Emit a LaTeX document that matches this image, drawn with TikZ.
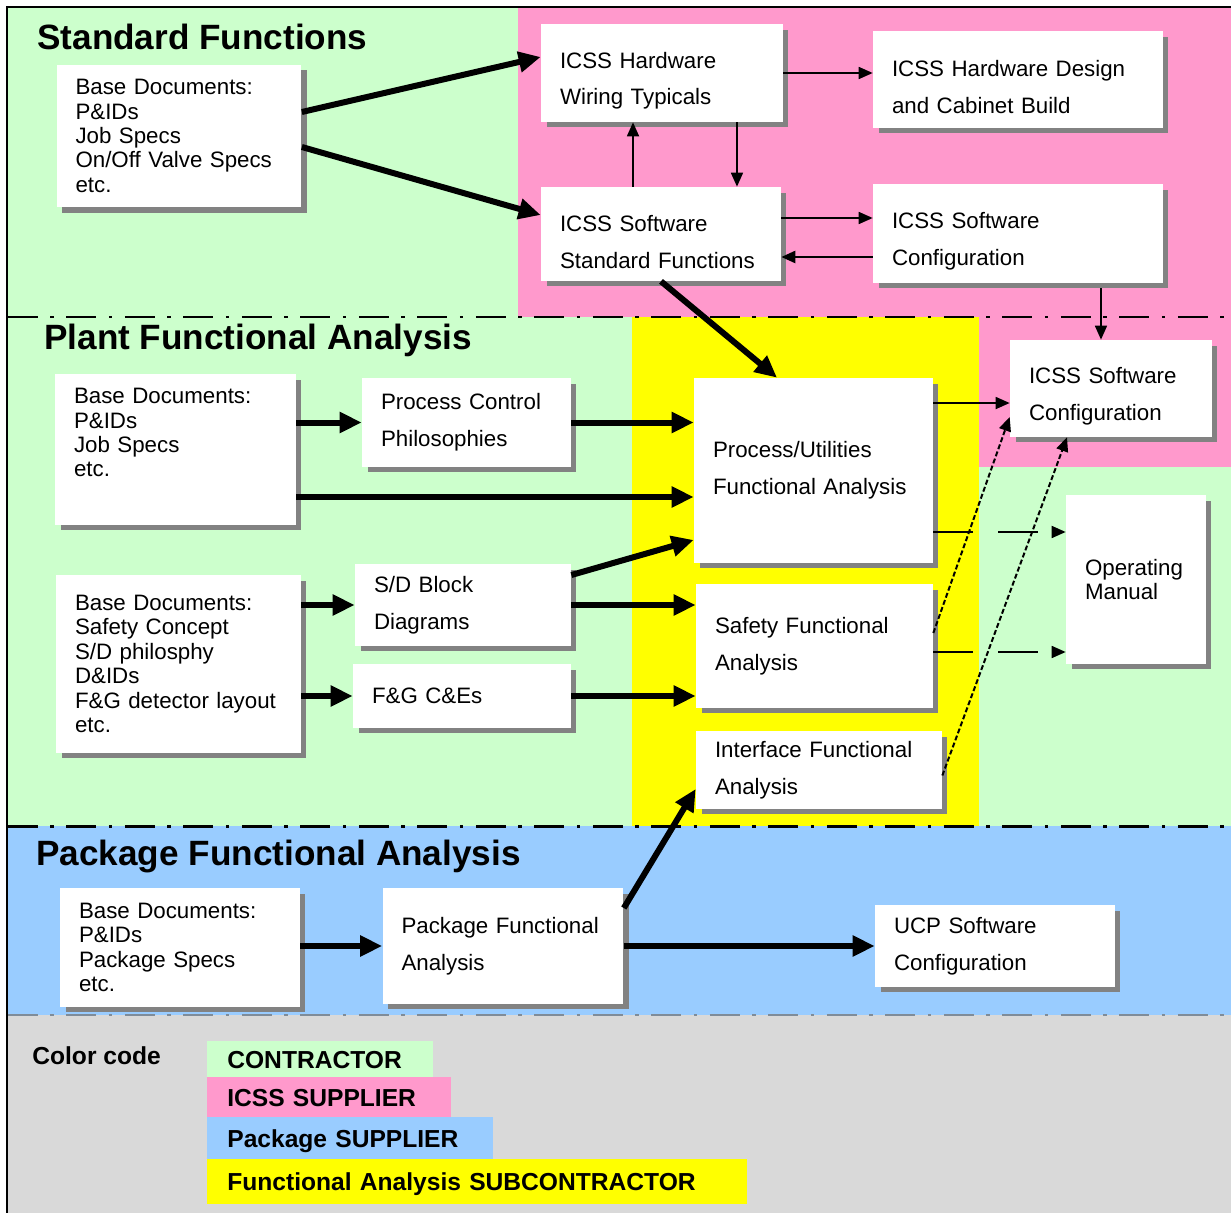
\documentclass[tikz,border=0pt]{standalone}
\usepackage{fontspec}
\setmainfont{Liberation Sans}
\usetikzlibrary{arrows.meta,shadows}

\definecolor{contractor}{HTML}{CCFFCC}
\definecolor{supplier}{HTML}{FF99CC}
\definecolor{pkgsupplier}{HTML}{99CCFF}
\definecolor{subcon}{HTML}{FFFF00}
\definecolor{codegray}{HTML}{D9D9D9}
\definecolor{shade}{HTML}{828282}
\definecolor{divgray}{HTML}{7F8C99}

\begin{document}
\begin{tikzpicture}[
        x=0.02cm, y=-0.02cm,
        box/.style={fill=white, inner xsep=0.38cm, inner ysep=2pt, align=left,
                font=\fontsize{12.7}{21}\selectfont,
                drop shadow={shadow xshift=0.11cm, shadow yshift=-0.11cm, fill=shade, opacity=1}},
        docs/.style={box, font=\fontsize{12.7}{13.9}\selectfont},
        lowered/.style={text height=18pt},
        heading/.style={anchor=base west, inner sep=0pt, font=\fontsize{20}{24}\selectfont\bfseries},
        codebox/.style={anchor=north west, inner xsep=0.4cm, inner ysep=0pt, align=left,
                text height=10pt, text depth=0pt, font=\fontsize{14}{16}\selectfont\bfseries},
        fat/.style={line width=0.12cm, -{Triangle[length=0.44cm,width=0.4cm]}},
        slim/.style={line width=0.035cm, -{Triangle[length=0.28cm,width=0.24cm]}},
        gapped/.style={slim, dash pattern=on 0.8cm off 0.5cm},
        fine/.style={slim, line width=0.04cm, dash pattern=on 0.1cm off 0.05cm},
        divider/.style={line width=0.06cm, dash pattern=on 0.6cm off 0.25cm on 0.07cm off 0.25cm}
    ]
    \useasboundingbox (0,0) rectangle (1231,1213);

    % Colour fields
    \fill[white] (0,0) rectangle (1231,1213);
    \fill[contractor] (8,8) rectangle (518,317);
    \fill[supplier] (518,8) rectangle (1231,317);
    \fill[contractor] (8,317) rectangle (1231,826);
    \fill[subcon] (632,317) rectangle (979,826);
    \fill[supplier] (979,317) rectangle (1231,467);
    \fill[pkgsupplier] (8,826) rectangle (1231,1015);
    \fill[codegray] (8,1015) rectangle (1231,1213);

    % Frame and dividers
    \draw[line width=0.05cm] (7,1213) -- (7,7) -- (1231,7);
    \draw[divider] (8,317) -- (1231,317);
    \draw[divider] (8,826) -- (1231,826);
    \draw[divider, divgray, line width=0.04cm] (8,1015) -- (1231,1015);

    % Headings
    \node[heading] (hstd) at (37,50) {Standard Functions};
    \node[heading] (hplant) at (44,350) {Plant Functional Analysis};
    \node[heading] (hpkg) at (36,865) {Package Functional Analysis};

    % Standard functions
    \node[docs, text width=4.14cm, minimum height=2.86cm] (sfbase) at (179,136)
        {Base Documents:\\P\&IDs\\Job Specs\\On/Off Valve Specs\\etc.};
    \node[box, lowered, text width=4.08cm, minimum height=1.96cm] (hwtyp) at (662,73)
        {ICSS Hardware\\Wiring Typicals};
    \node[box, lowered, text width=5.04cm, minimum height=1.94cm] (hwdes) at (1018,79.5)
        {ICSS Hardware Design\\and Cabinet Build};
    \node[box, lowered, text width=4.04cm, minimum height=1.88cm] (swstd) at (661,234)
        {ICSS Software\\Standard Functions};
    \node[box, lowered, text width=5.04cm, minimum height=1.98cm] (swcfg) at (1018,233.5)
        {ICSS Software\\Configuration};

    % Plant functional analysis
    \node[docs, text width=4.06cm, minimum height=3.02cm, text depth=61pt] (pfbase) at (175.5,449.5)
        {Base Documents:\\P\&IDs\\Job Specs\\etc.};
    \node[box, text width=3.42cm, minimum height=1.78cm] (pcp) at (466.5,422.5)
        {Process Control\\Philosophies};
    \node[box, text width=4.02cm, minimum height=3.7cm] (pua) at (813.5,470.5)
        {Process/Utilities\\Functional Analysis};
    \node[box, lowered, text width=3.28cm, minimum height=1.94cm] (swcfgb) at (1111,388.5)
        {ICSS Software\\Configuration};
    \node[docs, text width=2.04cm, minimum height=3.38cm] (opman) at (1136,579.5)
        {Operating\\Manual};
    \node[docs, text width=4.14cm, minimum height=3.56cm] (sdbase) at (178.5,664)
        {Base Documents:\\Safety Concept\\S/D philosphy\\D\&IDs\\F\&G detector layout\\etc.};
    \node[box, text width=3.56cm, minimum height=1.64cm] (sdblk) at (463,605)
        {S/D Block\\Diagrams};
    \node[box, text width=3.6cm, minimum height=1.28cm] (fgce) at (462,696)
        {F\&G C\&Es};
    \node[box, text width=3.98cm, minimum height=2.48cm] (safa) at (814.5,646)
        {Safety Functional\\Analysis};
    \node[box, text width=4.16cm, minimum height=1.56cm] (iffa) at (819,770)
        {Interface Functional\\Analysis};

    % Package functional analysis
    \node[docs, text width=4.04cm, minimum height=2.38cm] (pkbase) at (180,947.5)
        {Base Documents:\\P\&IDs\\Package Specs\\etc.};
    \node[box, text width=4.06cm, minimum height=2.32cm] (pkfa) at (503,946)
        {Package Functional\\Analysis};
    \node[box, text width=4.04cm, minimum height=1.64cm] (ucp) at (995,946)
        {UCP Software\\Configuration};

    % Standard functions links
    \draw[fat] ([yshift=0.48cm]sfbase.east) -- ([yshift=0.32cm]hwtyp.west);
    \draw[fat] ([yshift=-0.22cm]sfbase.east) -- ([yshift=0.38cm]swstd.west);
    \draw[slim] (hwtyp.east) -- (hwtyp.east -| hwdes.west);
    \draw[slim] ([xshift=-0.56cm]swstd.north) -- ([xshift=-0.56cm]swstd.north |- hwtyp.south);
    \draw[slim] ([xshift=1.5cm]hwtyp.south) -- ([xshift=1.5cm]hwtyp.south |- swstd.north);
    \draw[slim] ([yshift=0.32cm]swstd.east) -- ([yshift=0.32cm]swstd.east -| swcfg.west);
    \draw[slim, line width=0.05cm] ([yshift=-0.47cm]swcfg.west) -- ([yshift=-0.47cm]swcfg.west -| swstd.east);
    \draw[slim] ([xshift=1.66cm,yshift=-0.1cm]swcfg.south) -- ([xshift=1.66cm]swcfg.south |- swcfgb.north);
    \draw[fat] (swstd.south) -- ([xshift=-0.73cm]pua.north);

    % Plant links
    \draw[fat] (pfbase.east |- pcp.west) -- (pcp.west);
    \draw[fat] (pcp.east) -- (pcp.east -| pua.west);
    \draw[fat] ([yshift=-0.95cm]pfbase.east) -- ([yshift=-0.95cm]pfbase.east -| pua.west);
    \draw[fat] ([yshift=0.6cm]sdblk.east) -- ([yshift=-1.39cm]pua.west);
    \draw[fat] (sdblk.east) -- (sdblk.east -| safa.west);
    \draw[fat] (fgce.east) -- (fgce.east -| safa.west);
    \draw[fat] (sdbase.east |- sdblk.west) -- (sdblk.west);
    \draw[fat] (sdbase.east |- fgce.west) -- (fgce.west);
    \draw[slim] ([yshift=1.35cm]pua.east) -- ([yshift=1.35cm]pua.east -| swcfgb.west);
    \draw[gapped] ([yshift=-1.23cm]pua.east) -- ([yshift=-1.23cm]pua.east -| opman.west);
    \draw[gapped] ([yshift=-0.12cm]safa.east) -- ([yshift=-0.12cm]safa.east -| opman.west);
    \draw[fine] ([yshift=0.26cm]safa.east) -- ([yshift=-0.57cm]swcfgb.west);
    \draw[fine] ([yshift=-0.11cm]iffa.east) -- ([xshift=-0.88cm]swcfgb.south);

    % Package links
    \draw[fat] ([yshift=0.76cm]pkfa.east) -- ([yshift=-0.38cm]iffa.west);
    \draw[fat] (pkbase.east |- pkfa.west) -- (pkfa.west);
    \draw[fat] (pkfa.east) -- (pkfa.east -| ucp.west);

    % Colour code
    \node[anchor=base west, inner sep=0pt, font=\fontsize{14}{16}\selectfont\bfseries] (ccode) at (32,1064) {Color code};
    \node[codebox, fill=contractor, text width=3.72cm, minimum height=0.72cm] (lgcon) at (207,1041) {CONTRACTOR};
    \node[codebox, fill=supplier, text width=4.08cm, minimum height=0.8cm] (lgicss) at (207,1077) {ICSS SUPPLIER};
    \node[codebox, fill=pkgsupplier, text width=4.92cm, minimum height=0.84cm] (lgpkg) at (207,1117) {Package SUPPLIER};
    \node[codebox, fill=subcon, text width=10cm, minimum height=0.9cm] (lgfa) at (207,1159) {Functional Analysis SUBCONTRACTOR};
\end{tikzpicture}
\end{document}
